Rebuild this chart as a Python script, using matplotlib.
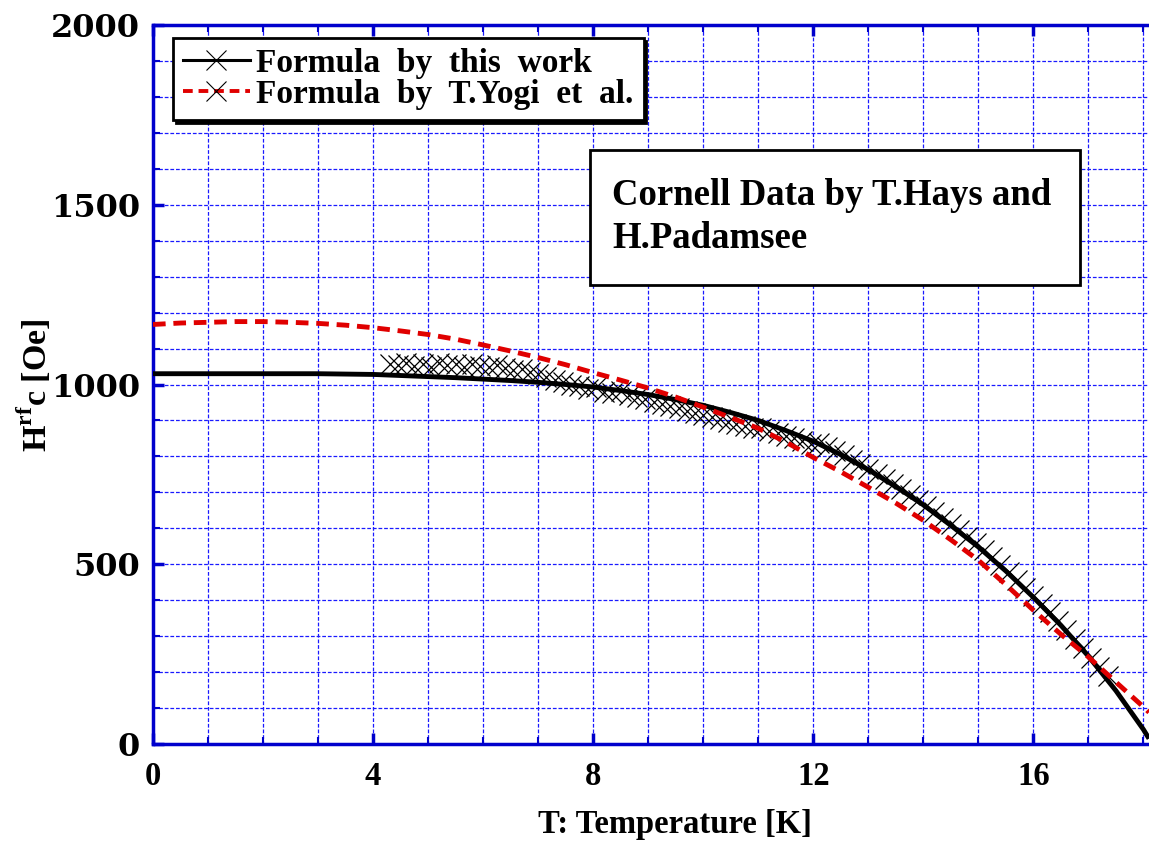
import matplotlib
matplotlib.use("Agg")
import matplotlib.pyplot as plt
from matplotlib.ticker import MultipleLocator
from matplotlib.patches import Rectangle

plt.rcParams['font.family'] = ['Liberation Serif', 'DejaVu Serif']
plt.rcParams['font.weight'] = 'bold'
plt.rcParams['mathtext.fontset'] = 'custom'
plt.rcParams['mathtext.rm'] = 'Liberation Serif:bold'
plt.rcParams['mathtext.bf'] = 'Liberation Serif:bold'

# ---- data ----
T_this = [0, 0.5, 1, 1.5, 2, 2.5, 3, 3.5, 4, 4.5, 5, 5.5, 6, 6.5, 7, 7.5, 8, 8.5,
          9, 9.5, 10, 10.5, 11, 11.5, 12, 12.5, 13, 13.5, 14, 14.5, 15, 15.5,
          16, 16.5, 17, 17.5, 18, 18.1]
H_this = [1030, 1030, 1030, 1030, 1030, 1030, 1030, 1029, 1028, 1025, 1022, 1019,
          1015, 1011, 1006, 1000, 993, 983, 972, 958, 942, 922, 900, 872, 842,
          805, 763, 716, 665, 608, 548, 481, 408, 330, 244, 148, 40, 15]

T_yogi = T_this
H_yogi = [1167, 1171, 1173, 1175, 1175, 1173, 1170, 1165, 1158, 1149, 1139, 1126,
          1110, 1093, 1075, 1055, 1033, 1012, 990, 965, 937, 908, 878, 840, 797,
          757, 714, 670, 622, 568, 511, 443, 372, 305, 242, 172, 103, 88]

T_data = [4.3, 4.45, 4.6, 4.75, 4.9, 5.05, 5.2, 5.35, 5.5, 5.65, 5.8, 5.95, 6.1,
          6.25, 6.4, 6.55, 6.7, 6.85, 7.0, 7.15, 7.3, 7.45, 7.6, 7.75, 7.9, 8.05,
          8.2, 8.35, 8.5, 8.65, 8.8, 8.95, 9.1, 9.25, 9.4, 9.55, 9.7, 9.85, 10.0,
          10.15, 10.3, 10.45, 10.6, 10.75, 10.9, 11.05, 11.2, 11.35, 11.5, 11.65,
          11.8, 11.95, 12.1, 12.25, 12.4, 12.55, 12.7, 12.85, 13.0, 13.15, 13.3,
          13.45, 13.6, 13.75, 13.9, 14.05, 14.2, 14.35, 14.5, 14.65, 14.8, 14.95,
          15.1, 15.25, 15.4, 15.55, 15.7, 15.85, 16.0, 16.15, 16.3, 16.45, 16.6,
          16.75, 16.9, 17.05, 17.2, 17.35]
H_data = [1058, 1055, 1060, 1052, 1058, 1050, 1060, 1055, 1058, 1050, 1057, 1052,
          1048, 1053, 1045, 1040, 1043, 1035, 1030, 1020, 1012, 1008, 1000, 995,
          988, 992, 980, 975, 982, 970, 965, 960, 950, 945, 940, 935, 925, 920,
          915, 910, 905, 895, 890, 885, 880, 878, 870, 865, 858, 850, 842, 835,
          836, 826, 814, 803, 790, 778, 766, 752, 738, 724, 709, 694, 678, 662,
          646, 629, 612, 594, 576, 558, 539, 519, 498, 478, 456, 434, 412, 389,
          366, 342, 318, 292, 266, 240, 213, 190]

x_ticks = [0, 4, 8, 12, 16]
y_ticks = [0, 500, 1000, 1500, 2000]

# ---- figure ----
W, H = 1149, 843
fig = plt.figure(figsize=(W / 100, H / 100), dpi=100)
ax = fig.add_axes([153 / W, 1 - 744 / H, 1 - 153 / W, (744 - 25) / H])

blue = '#0000cc'
ax.set_xlim(0, 18.10)
ax.set_ylim(0, 2000)
ax.set_xticks(x_ticks)
ax.set_yticks(y_ticks)
ax.xaxis.set_minor_locator(MultipleLocator(1))
ax.yaxis.set_minor_locator(MultipleLocator(100))
ax.grid(True, which='both', color='#1a1aff', linestyle=(0, (3, 1.5)), linewidth=0.9)
ax.set_axisbelow(True)

for s in ['left', 'bottom', 'top']:
    ax.spines[s].set_color(blue)
    ax.spines[s].set_linewidth(2.5)
ax.spines['right'].set_visible(False)

ax.tick_params(which='major', direction='in', length=8, width=2.5, color=blue,
               top=True, right=False, labelsize=23.5)
ax.tick_params(which='minor', direction='in', length=5, width=1.5, color=blue,
               top=True, right=False)
ax.tick_params(axis='y', which='major', pad=9.5)
ax.tick_params(axis='x', which='major', pad=12.5)
ax.set_yticklabels([str(v) for v in y_ticks], fontfamily='DejaVu Serif',
                   fontsize=23, fontweight='bold')

ax.plot(T_data, H_data, linestyle='none', marker='x', markersize=14,
        markeredgewidth=0.9, color='black', zorder=3)
l1, = ax.plot(T_this, H_this, color='black', linewidth=3.5, zorder=4,
              solid_capstyle='butt')
l2, = ax.plot(T_yogi, H_yogi, color='#e00000', linewidth=3.5, zorder=5,
              linestyle=(0, (2.6, 1.6)))

# legend proxies (line + x marker)
h1, = ax.plot([], [], color='black', linewidth=2.2, marker='x', markersize=14,
              markeredgewidth=0.8, markeredgecolor='black')
h2, = ax.plot([], [], color='#e00000', linewidth=2.8, linestyle=(0, (2.5, 1.5)),
              marker='x', markersize=14, markeredgewidth=0.8, markeredgecolor='black')
leg = ax.legend([h1, h2], ['Formula  by  this  work', 'Formula  by  T.Yogi  et  al.'],
                loc='upper left', bbox_to_anchor=(173 / W, 1 - 38 / H),
                bbox_transform=fig.transFigure, frameon=True,
                fancybox=False, edgecolor='black', framealpha=1,
                shadow={'color': 'black', 'alpha': 1},
                handlelength=2.0, handletextpad=0.2, labelspacing=0.0,
                borderpad=0.3, borderaxespad=0, numpoints=1,
                prop={'family': 'Liberation Serif', 'weight': 'bold', 'size': 24})
leg.get_frame().set_linewidth(2.0)
leg.set_zorder(10)

# annotation box
rect = Rectangle((590 / W, 1 - 285 / H), (1080 - 590) / W, (285 - 150) / H,
                 transform=fig.transFigure, facecolor='white', edgecolor='black',
                 linewidth=2.0, zorder=8)
ax.add_artist(rect)
rect.set_transform(fig.transFigure)
ax.text(612 / W, 1 - 205 / H, 'Cornell Data by T.Hays and', transform=fig.transFigure,
        fontsize=26.5, fontweight='bold', ha='left', va='baseline', zorder=9)
ax.text(612 / W, 1 - 248 / H, 'H.Padamsee', transform=fig.transFigure,
        fontsize=26.5, fontweight='bold', ha='left', va='baseline', zorder=9)

ax.set_xlabel('T: Temperature [K]', fontsize=23.5, fontweight='bold',
              fontfamily='Liberation Serif')
ax.set_ylabel(r'H$^{\mathbf{rf}}$c [Oe]', fontsize=24.5, fontweight='bold',
              fontfamily='Liberation Serif')
ax.yaxis.set_label_coords(54 / W, 1 - 385 / H, transform=fig.transFigure)
ax.xaxis.set_label_coords(675 / W, 1 - 809 / H, transform=fig.transFigure)

fig.savefig('out.png', dpi=100)
